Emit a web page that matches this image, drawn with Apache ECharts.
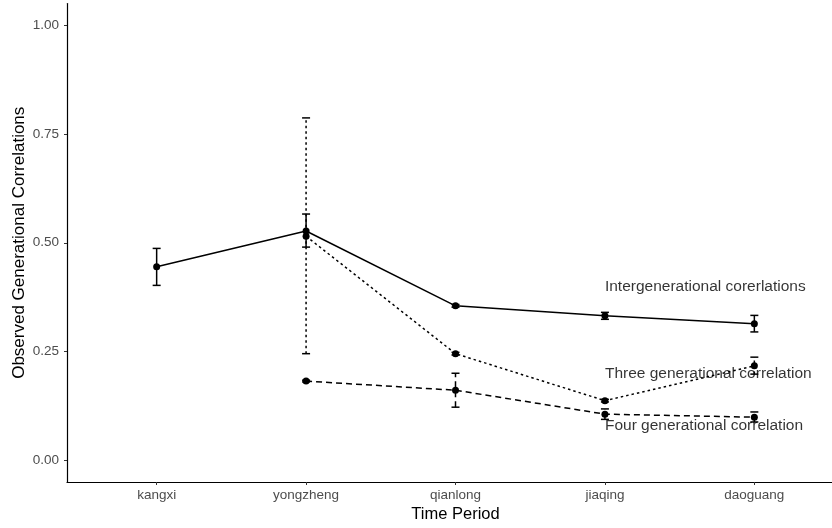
<!DOCTYPE html>
<html><head><meta charset="utf-8">
<script src="https://cdn.jsdelivr.net/npm/echarts@6/dist/echarts.min.js"></script>
<style>html,body{margin:0;padding:0;background:#fff}#c{width:832px;height:528px}</style>
</head><body><div id="c"></div>
<script>
const categories = ['kangxi','yongzheng','qianlong','jiaqing','daoguang'];
const interVals = [0.445, 0.527, 0.355, 0.332, 0.314];
const interLow  = [0.402, 0.490, 0.352, 0.324, 0.295];
const interHigh = [0.487, 0.566, 0.358, 0.340, 0.333];
const threeVals = [null, 0.515, 0.245, 0.137, 0.217];
const threeLow  = [null, 0.245, 0.242, 0.134, 0.198];
const threeHigh = [null, 0.787, 0.248, 0.140, 0.237];
const fourVals  = [null, 0.182, 0.161, 0.106, 0.099];
const fourLow   = [null, 0.180, 0.122, 0.094, 0.088];
const fourHigh  = [null, 0.184, 0.200, 0.118, 0.111];
const yTicks = [0, 0.25, 0.5, 0.75, 1.0];
const annLabels = ['Intergenerational corerlations','Three generational correlation','Four generational correlation'];
const annX = [3, 3, 3];
const annY = [0.40, 0.20, 0.08];

function pts(vals){ return vals.map((v,i)=> v==null?null:[i,v]).filter(d=>d); }
function errs(lo,hi){ return lo.map((l,i)=> l==null?null:[i,l,hi[i]]).filter(d=>d); }

function errSeries(lo,hi,dash){
  return {
    type:'custom', data: errs(lo,hi), z:3,
    renderItem:function(params, api){
      const x = api.value(0);
      const a = api.coord([x, api.value(1)]);
      const b = api.coord([x, api.value(2)]);
      const w = 4;
      const st = {stroke:'#000', lineWidth:1.5, lineDash: dash};
      return {type:'group', children:[
        {type:'line', shape:{x1:a[0],y1:a[1],x2:b[0],y2:b[1]}, style:st},
        {type:'line', shape:{x1:a[0]-w,y1:a[1],x2:a[0]+w,y2:a[1]}, style:{stroke:'#000',lineWidth:1.5}},
        {type:'line', shape:{x1:b[0]-w,y1:b[1],x2:b[0]+w,y2:b[1]}, style:{stroke:'#000',lineWidth:1.5}}
      ]};
    }
  };
}
function lineSeries(vals, dash){
  return {type:'line', data: pts(vals), symbol:'circle', symbolSize:7,
    itemStyle:{color:'#000'}, lineStyle:{color:'#000', width:1.5, type: dash}, z:4, animation:false};
}

const chart = echarts.init(document.getElementById('c'), null, {renderer:'canvas'});
chart.setOption({
  animation:false,
  grid:{left:67, top:3.5, width:777, height:478.5, containLabel:false, outerBoundsMode:'none'},
  xAxis:{type:'value', min:-0.6, max:4.6,
    name:'Time Period', nameLocation:'middle', nameGap:24, nameMoveOverlap:false,
    nameTextStyle:{color:'#000', fontSize:16.5, fontFamily:'Liberation Sans'},
    axisLine:{show:true, onZero:false, lineStyle:{color:'#000', width:1.2}},
    axisTick:{show:true, customValues:[0,1,2,3,4], length:3, lineStyle:{color:'#333'}},
    axisLabel:{customValues:[0,1,2,3,4], formatter:v=>categories[Math.round(v)], color:'#4d4d4d', fontSize:13.5, fontFamily:'Liberation Sans', margin:6},
    splitLine:{show:false}},
  yAxis:{type:'value', min:-0.05, max:1.05,
    name:'Observed Generational Correlations', nameLocation:'middle', nameGap:39, nameMoveOverlap:false,
    nameTextStyle:{color:'#000', fontSize:17, fontFamily:'Liberation Sans'},
    axisLine:{show:true, onZero:false, lineStyle:{color:'#000', width:1.2}},
    axisTick:{show:true, customValues:yTicks, length:3, lineStyle:{color:'#333'}},
    axisLabel:{customValues:yTicks, formatter:v=>v.toFixed(2), color:'#4d4d4d', fontSize:13.5, fontFamily:'Liberation Sans', margin:8},
    splitLine:{show:false}},
  series:[
    errSeries(interLow, interHigh, null),
    errSeries(threeLow, threeHigh, [2.5,3]),
    errSeries(fourLow, fourHigh, [6,4]),
    lineSeries(interVals, 'solid'),
    lineSeries(threeVals, [2.5,3]),
    lineSeries(fourVals, [6,4]),
    {type:'scatter', symbolSize:0, z:6,
      data: annLabels.map((t,i)=>({value:[annX[i], annY[i]], name:t})),
      label:{show:true, position:'right', distance:0, formatter:p=>p.name, color:'#000', fontSize:15.5, fontFamily:'Liberation Sans'}}
  ]
});
</script></body></html>
